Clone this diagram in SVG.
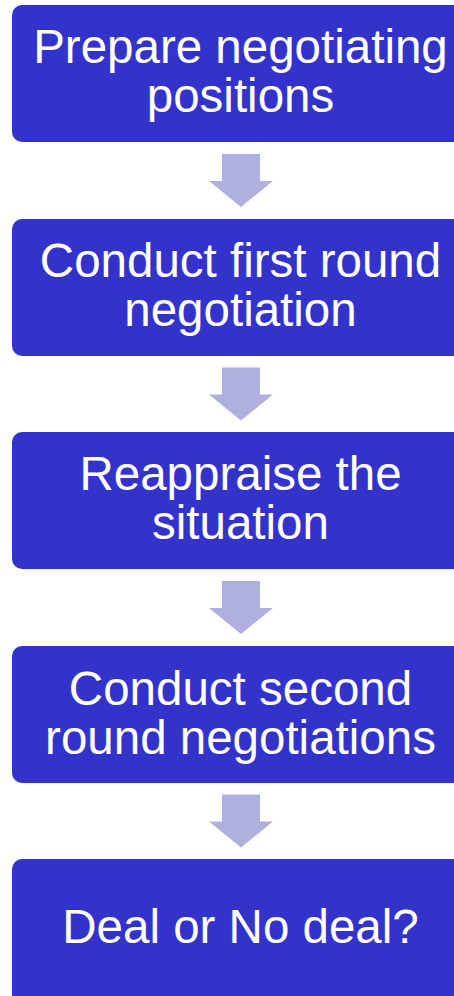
<svg xmlns="http://www.w3.org/2000/svg" width="454" height="996" viewBox="0 0 454 996">
<style>
.box{fill:#3333CC;}
.t{fill:#FFFFFF;font-family:"Liberation Sans",Arial,sans-serif;font-size:47.5px;text-anchor:middle;}
.arr{fill:#B0B0E0;}
</style>
<rect width="454" height="996" fill="#FFFFFF"/>
<g id="connectors">
<path class="arr" d="M222,154 H260 V181 H273 L241,207 L209,181 H222 Z"/>
<path class="arr" d="M222,367.5 H260 V394.5 H273 L241,420.5 L209,394.5 H222 Z"/>
<path class="arr" d="M222,581 H260 V608 H273 L241,634 L209,608 H222 Z"/>
<path class="arr" d="M222,794.5 H260 V821.5 H273 L241,847.5 L209,821.5 H222 Z"/>
</g>
<g id="node1">
<rect class="box" x="12" y="5" width="458" height="137" rx="10"/>
<text class="t" x="240.5" y="63">Prepare negotiating</text>
<text class="t" x="240.5" y="112">positions</text>
</g>
<g id="node2">
<rect class="box" x="12" y="219" width="458" height="137" rx="10"/>
<text class="t" x="240.5" y="277">Conduct first round</text>
<text class="t" x="240.5" y="326">negotiation</text>
</g>
<g id="node3">
<rect class="box" x="12" y="432" width="458" height="137" rx="10"/>
<text class="t" x="240.5" y="490">Reappraise the</text>
<text class="t" x="240.5" y="539">situation</text>
</g>
<g id="node4">
<rect class="box" x="12" y="646" width="458" height="137" rx="10"/>
<text class="t" x="240.5" y="705">Conduct second</text>
<text class="t" x="240.5" y="754">round negotiations</text>
</g>
<g id="node5">
<rect class="box" x="12" y="859" width="458" height="150" rx="10"/>
<text class="t" x="240.5" y="943">Deal or No deal?</text>
</g>
</svg>
